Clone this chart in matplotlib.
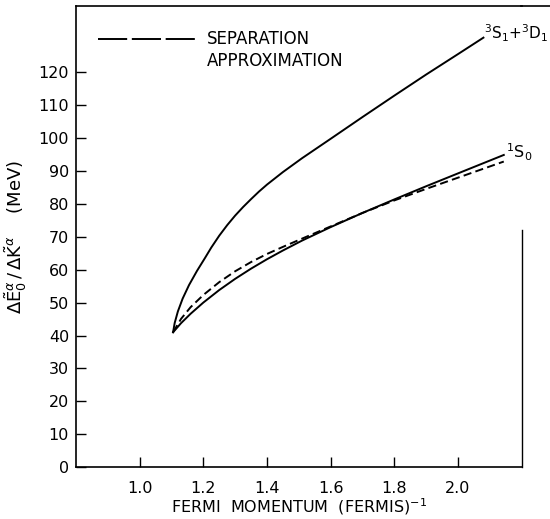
import numpy as np
import matplotlib
matplotlib.use("Agg")
import matplotlib.pyplot as plt
from matplotlib.lines import Line2D

# Data
x_triplet = [1.105, 1.11, 1.12, 1.135, 1.155, 1.18, 1.205, 1.225, 1.25, 1.275, 1.30, 1.325,
             1.35, 1.375, 1.40, 1.45, 1.51, 1.60, 1.70, 1.80, 1.90, 2.00, 2.08]
y_triplet = [41.0, 43.8, 47.3, 51.2, 55.3, 59.6, 63.5, 66.7, 70.3, 73.5, 76.4, 79.0,
             81.4, 83.7, 85.8, 89.6, 93.8, 99.7, 106.3, 112.8, 119.2, 125.4, 130.4]

x_singlet = [1.105, 1.13, 1.16, 1.20, 1.25, 1.30, 1.35, 1.40, 1.45, 1.51, 1.60, 1.70,
             1.80, 1.90, 2.00, 2.144]
y_singlet = [41.0, 43.75, 46.6, 50.0, 53.8, 57.2, 60.3, 63.15, 65.8, 68.8, 72.9, 77.2,
             81.3, 85.3, 89.2, 94.8]

x_sep = [1.105, 1.13, 1.16, 1.20, 1.25, 1.30, 1.35, 1.40, 1.45, 1.51, 1.60, 1.70,
         1.80, 1.90, 2.00, 2.144]
y_sep = [41.0, 45.05, 48.6, 52.3, 56.2, 59.5, 62.3, 64.75, 66.9, 69.4, 73.1, 77.2,
         81.0, 84.5, 87.9, 92.8]

y_ticks = list(range(0, 130, 10))
x_ticks = [1.0, 1.2, 1.4, 1.6, 1.8, 2.0]
x_ticklabels = ["1.0", "1.2", "1.4", "1.6", "1.8", "2.0"]

plt.rcParams['font.family'] = ['DejaVu Sans']
plt.rcParams['mathtext.fontset'] = 'dejavusans'
fig = plt.figure(figsize=(5.5, 5.19), dpi=100)
ax = fig.add_axes([0.1382, 0.0996, 0.8102, 0.8888])

lw = 1.4
ax.plot(x_triplet, y_triplet, color='black', lw=lw)
ax.plot(x_singlet, y_singlet, color='black', lw=lw)
ax.plot(x_sep, y_sep, color='black', lw=lw, dashes=(4.2, 2.2))

ax.set_xlim(0.8, 2.2)
ax.set_ylim(0, 140)
ax.set_xticks(x_ticks)
ax.set_xticklabels(x_ticklabels)
ax.set_yticks(y_ticks)
ax.tick_params(direction='in', length=7, width=1.0, labelsize=11.5, colors='black')
ax.tick_params(axis='x', pad=10)
ax.tick_params(axis='y', pad=5)

for s in ['left', 'bottom', 'top']:
    ax.spines[s].set_linewidth(1.2)
ax.spines['right'].set_linewidth(1.0)
ax.spines['right'].set_bounds(0, 72)

# top spine continues to the right edge of the figure
fig.add_artist(Line2D([0.948, 1.0], [0.9884, 0.9884], transform=fig.transFigure,
                      color='black', lw=1.2))

# legend
ax.plot([0.869, 1.173], [130.0, 130.0], color='black', lw=lw, dashes=(15, 2.4))
ax.text(1.212, 130.0, "SEPARATION", fontsize=12, va='center', ha='left')
ax.text(1.212, 123.3, "APPROXIMATION", fontsize=12, va='center', ha='left')

# curve labels
ax.text(2.083, 131.8, r"$^3$S$_1$+$^3$D$_1$", fontsize=11, ha='left', va='center')
ax.text(2.152, 95.5, r"$^1$S$_0$", fontsize=11.5, ha='left', va='center')

ax.set_xlabel(r"FERMI  MOMENTUM  (FERMIS)$^{-1}$", fontsize=11.5, labelpad=0)
ax.set_ylabel(r"$\Delta\tilde{\mathrm{E}}_0^{\alpha}\,/\,\Delta\tilde{\mathrm{K}}^{\alpha}$    (MeV)",
              fontsize=13, labelpad=7)

fig.savefig("out.png", dpi=100)
